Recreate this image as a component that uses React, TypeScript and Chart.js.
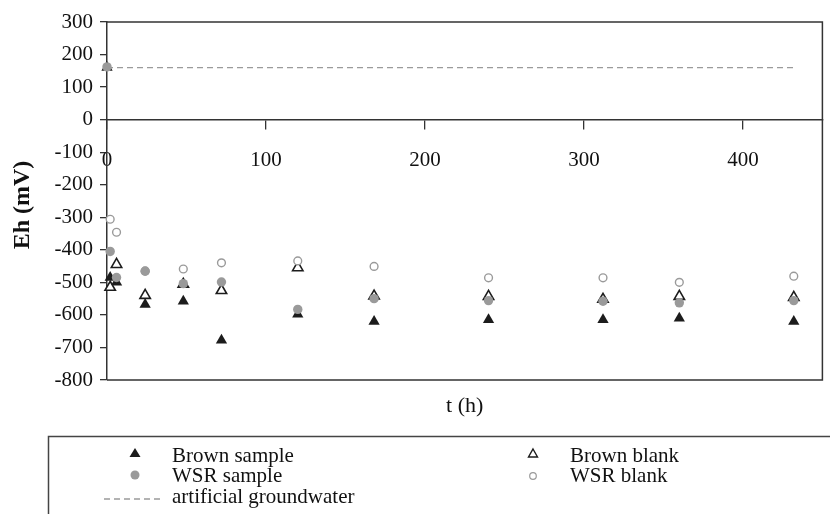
import React, { useEffect, useRef } from "react";
import { Chart, registerables } from "chart.js";

Chart.register(...registerables);

const timeHours = [0, 2, 6, 24, 48, 72, 120, 168, 240, 312, 360, 432];
const brownSample = [160, -485, -500, -568, -558, -678, -598, -620, -615, -615, -610, -620];
const brownBlank = [null, -515, -445, -540, -506, -525, -455, -542, -543, -552, -543, -546];
const wsrSample = [162, -405, -485, -466, -504, -499, -583, -550, -556, -558, -563, -556];
const wsrBlank = [null, -306, -346, -465, -459, -440, -434, -451, -486, -486, -500, -481];
const groundwaterTimes = [0, 432];
const groundwaterLevel = [160, 160];

const seriesNames = ["Brown sample", "Brown blank", "WSR sample", "WSR blank", "artificial groundwater"];
const xTitle = "t (h)";
const yTitle = "Eh (mV)";

const FONT = "'Liberation Serif', 'Times New Roman', serif";
const GRAY = "#9a9a9a";
const DARK = "#1c1c1c";

function pts(xs: number[], ys: (number | null)[]) {
  const out: { x: number; y: number }[] = [];
  xs.forEach((x, i) => {
    const y = ys[i];
    if (y !== null && y !== undefined) out.push({ x, y });
  });
  return out;
}

const decorPlugin = {
  id: "decor",
  afterDraw(chart: any) {
    const ctx = chart.ctx as CanvasRenderingContext2D;
    const a = chart.chartArea;
    ctx.save();
    ctx.strokeStyle = "#333";
    ctx.lineWidth = 1.5;
    ctx.beginPath();
    ctx.moveTo(a.left, a.top);
    ctx.lineTo(a.right, a.top);
    ctx.lineTo(a.right, a.bottom);
    ctx.lineTo(a.left, a.bottom);
    ctx.stroke();

    ctx.fillStyle = "#111";
    ctx.font = `22px ${FONT}`;
    ctx.textAlign = "center";
    ctx.textBaseline = "alphabetic";
    ctx.fillText(xTitle, (a.left + a.right) / 2, 412);
    ctx.save();
    ctx.translate(23, 205);
    ctx.rotate(-Math.PI / 2);
    ctx.font = `bold 24px ${FONT}`;
    ctx.textBaseline = "middle";
    ctx.fillText(yTitle, 0, 0);
    ctx.restore();

    ctx.strokeStyle = "#444";
    ctx.lineWidth = 1.5;
    ctx.strokeRect(48.5, 436.5, 900, 200);

    ctx.fillStyle = DARK;
    ctx.beginPath();
    ctx.moveTo(135, 448);
    ctx.lineTo(140.5, 457);
    ctx.lineTo(129.5, 457);
    ctx.closePath();
    ctx.fill();
    ctx.fillStyle = GRAY;
    ctx.beginPath();
    ctx.arc(135, 475, 4.5, 0, Math.PI * 2);
    ctx.fill();
    ctx.strokeStyle = GRAY;
    ctx.lineWidth = 1.3;
    ctx.setLineDash([6, 4]);
    ctx.beginPath();
    ctx.moveTo(104, 499);
    ctx.lineTo(164, 499);
    ctx.stroke();
    ctx.setLineDash([]);
    ctx.strokeStyle = DARK;
    ctx.lineWidth = 1.4;
    ctx.beginPath();
    ctx.moveTo(533, 449);
    ctx.lineTo(537.5, 457);
    ctx.lineTo(528.5, 457);
    ctx.closePath();
    ctx.stroke();
    ctx.strokeStyle = GRAY;
    ctx.lineWidth = 1.2;
    ctx.beginPath();
    ctx.arc(533, 476, 3.3, 0, Math.PI * 2);
    ctx.stroke();

    ctx.fillStyle = "#111";
    ctx.font = `21px ${FONT}`;
    ctx.textAlign = "left";
    ctx.textBaseline = "alphabetic";
    ctx.fillText(seriesNames[0], 172, 462);
    ctx.fillText(seriesNames[2], 172, 482);
    ctx.fillText(seriesNames[4], 172, 503);
    ctx.fillText(seriesNames[1], 570, 462);
    ctx.fillText(seriesNames[3], 570, 482);
    ctx.restore();
  },
};

export default function App() {
  const ref = useRef<HTMLCanvasElement | null>(null);
  useEffect(() => {
    if (!ref.current) return;
    const chart = new Chart(ref.current, {
      type: "scatter",
      data: {
        datasets: [
          {
            label: seriesNames[4],
            data: pts(groundwaterTimes, groundwaterLevel),
            showLine: true,
            borderColor: GRAY,
            borderWidth: 1.3,
            borderDash: [6, 4],
            pointRadius: 0,
            order: 5,
            clip: false,
          } as any,
          {
            label: seriesNames[0],
            data: pts(timeHours, brownSample),
            pointStyle: "triangle",
            pointRadius: 6.5,
            backgroundColor: DARK,
            borderColor: DARK,
            borderWidth: 0,
            order: 4,
            clip: false,
          },
          {
            label: seriesNames[1],
            data: pts(timeHours, brownBlank),
            pointStyle: "triangle",
            pointRadius: 6,
            backgroundColor: "rgba(255,255,255,1)",
            borderColor: DARK,
            borderWidth: 1.6,
            order: 3,
            clip: false,
          },
          {
            label: seriesNames[3],
            data: pts(timeHours, wsrBlank),
            pointStyle: "circle",
            pointRadius: 3.9,
            backgroundColor: "rgba(255,255,255,1)",
            borderColor: GRAY,
            borderWidth: 1.4,
            order: 2,
            clip: false,
          },
          {
            label: seriesNames[2],
            data: pts(timeHours, wsrSample),
            pointStyle: "circle",
            pointRadius: 4.7,
            backgroundColor: GRAY,
            borderColor: GRAY,
            borderWidth: 0,
            order: 1,
            clip: false,
          },
        ],
      },
      options: {
        responsive: false,
        animation: false,
        layout: { padding: { left: 0, top: 22, right: 6, bottom: 134 } },
        plugins: { legend: { display: false }, tooltip: { enabled: false } },
        scales: {
          x: {
            type: "linear",
            position: { y: 0 } as any,
            min: 0,
            max: 450,
            ticks: {
              stepSize: 100,
              includeBounds: false,
              padding: 19,
              color: "#111",
              font: { family: FONT, size: 21 },
              maxRotation: 0,
            },
            grid: { drawOnChartArea: false, drawTicks: true, tickLength: 9, color: "#333", lineWidth: 1.3 },
            border: { display: true, color: "#333", width: 1.5 },
          },
          y: {
            type: "linear",
            min: -800,
            max: 300,
            ticks: {
              stepSize: 100,
              padding: 7,
              color: "#111",
              font: { family: FONT, size: 21 },
            },
            grid: { drawOnChartArea: false, drawTicks: true, tickLength: 7, color: "#333", lineWidth: 1.3 },
            border: { display: true, color: "#333", width: 1.5 },
            afterFit: (s: any) => {
              s.width = 107;
            },
          },
        },
      },
      plugins: [decorPlugin],
    });
    return () => chart.destroy();
  }, []);
  return (
    <div style={{ position: "absolute", left: 0, top: 0, width: 830, height: 514, background: "#fff" }}>
      <canvas ref={ref} width={830} height={514} style={{ width: 830, height: 514, display: "block" }} />
    </div>
  );
}
